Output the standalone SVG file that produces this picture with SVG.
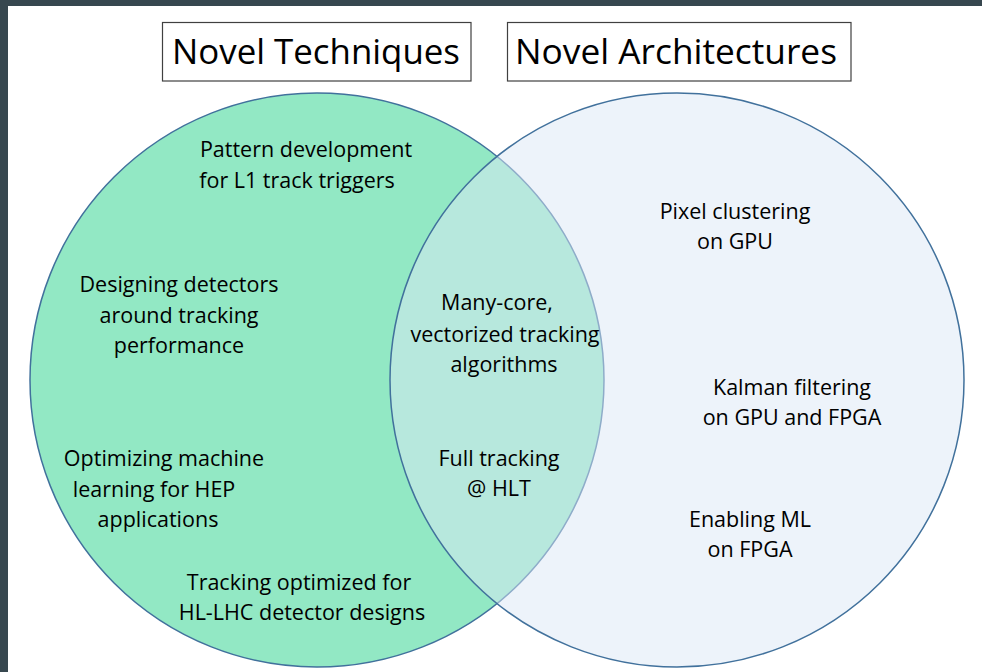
<svg xmlns="http://www.w3.org/2000/svg" width="982" height="672" viewBox="0 0 982 672">
<style>
.t{font-family:"Open Sans","Noto Sans",sans-serif;font-size:21.5px;fill:#000;text-anchor:middle}
.h{font-family:"Open Sans","Noto Sans",sans-serif;font-size:35px;fill:#000;text-anchor:middle}
.box{fill:#fff;stroke:#404040;stroke-width:1.2}
.c{stroke:#41719c;stroke-width:1.5}
</style>
<rect x="0" y="0" width="982" height="672" fill="#fff"/>
<rect x="0" y="0" width="982" height="6" fill="#37474f"/>
<rect x="0" y="0" width="8" height="672" fill="#37474f"/>
<g id="venn">
<circle id="left-circle" class="c" cx="317" cy="380" r="287" fill="#92e8c4"/>
<circle id="right-circle" class="c" cx="677" cy="380" r="287" fill="#dbe7f5" fill-opacity="0.5"/>
</g>
<g id="title-techniques">
<rect class="box" x="162.5" y="22.5" width="308.5" height="58.5"/>
<text class="h" x="316" y="64" textLength="288" lengthAdjust="spacingAndGlyphs">Novel Techniques</text>
</g>
<g id="title-architectures">
<rect class="box" x="507.5" y="22.5" width="343.5" height="58.5"/>
<text class="h" x="676" y="64" textLength="322" lengthAdjust="spacingAndGlyphs">Novel Architectures</text>
</g>
<g id="connectors"></g>
<g id="n-pattern">
<text class="t" x="306" y="157">Pattern development</text>
<text class="t" x="297" y="188">for L1 track triggers</text>
</g>
<g id="n-designing">
<text class="t" x="179" y="292">Designing detectors</text>
<text class="t" x="179" y="323">around tracking</text>
<text class="t" x="179" y="353">performance</text>
</g>
<g id="n-ml">
<text class="t" x="164" y="466">Optimizing machine</text>
<text class="t" x="154" y="497">learning for HEP</text>
<text class="t" x="158" y="527">applications</text>
</g>
<g id="n-hllhc">
<text class="t" x="299" y="590">Tracking optimized for</text>
<text class="t" x="302" y="620">HL-LHC detector designs</text>
</g>
<g id="n-manycore">
<text class="t" x="497" y="310">Many-core,</text>
<text class="t" x="505" y="342">vectorized tracking</text>
<text class="t" x="504" y="372">algorithms</text>
</g>
<g id="n-hlt">
<text class="t" x="499" y="466">Full tracking</text>
<text class="t" x="499" y="496">@ HLT</text>
</g>
<g id="n-pixel">
<text class="t" x="735" y="219">Pixel clustering</text>
<text class="t" x="735" y="249">on GPU</text>
</g>
<g id="n-kalman">
<text class="t" x="792" y="395">Kalman filtering</text>
<text class="t" x="792" y="425">on GPU and FPGA</text>
</g>
<g id="n-enabling">
<text class="t" x="750" y="527">Enabling ML</text>
<text class="t" x="750" y="557">on FPGA</text>
</g>
</svg>
